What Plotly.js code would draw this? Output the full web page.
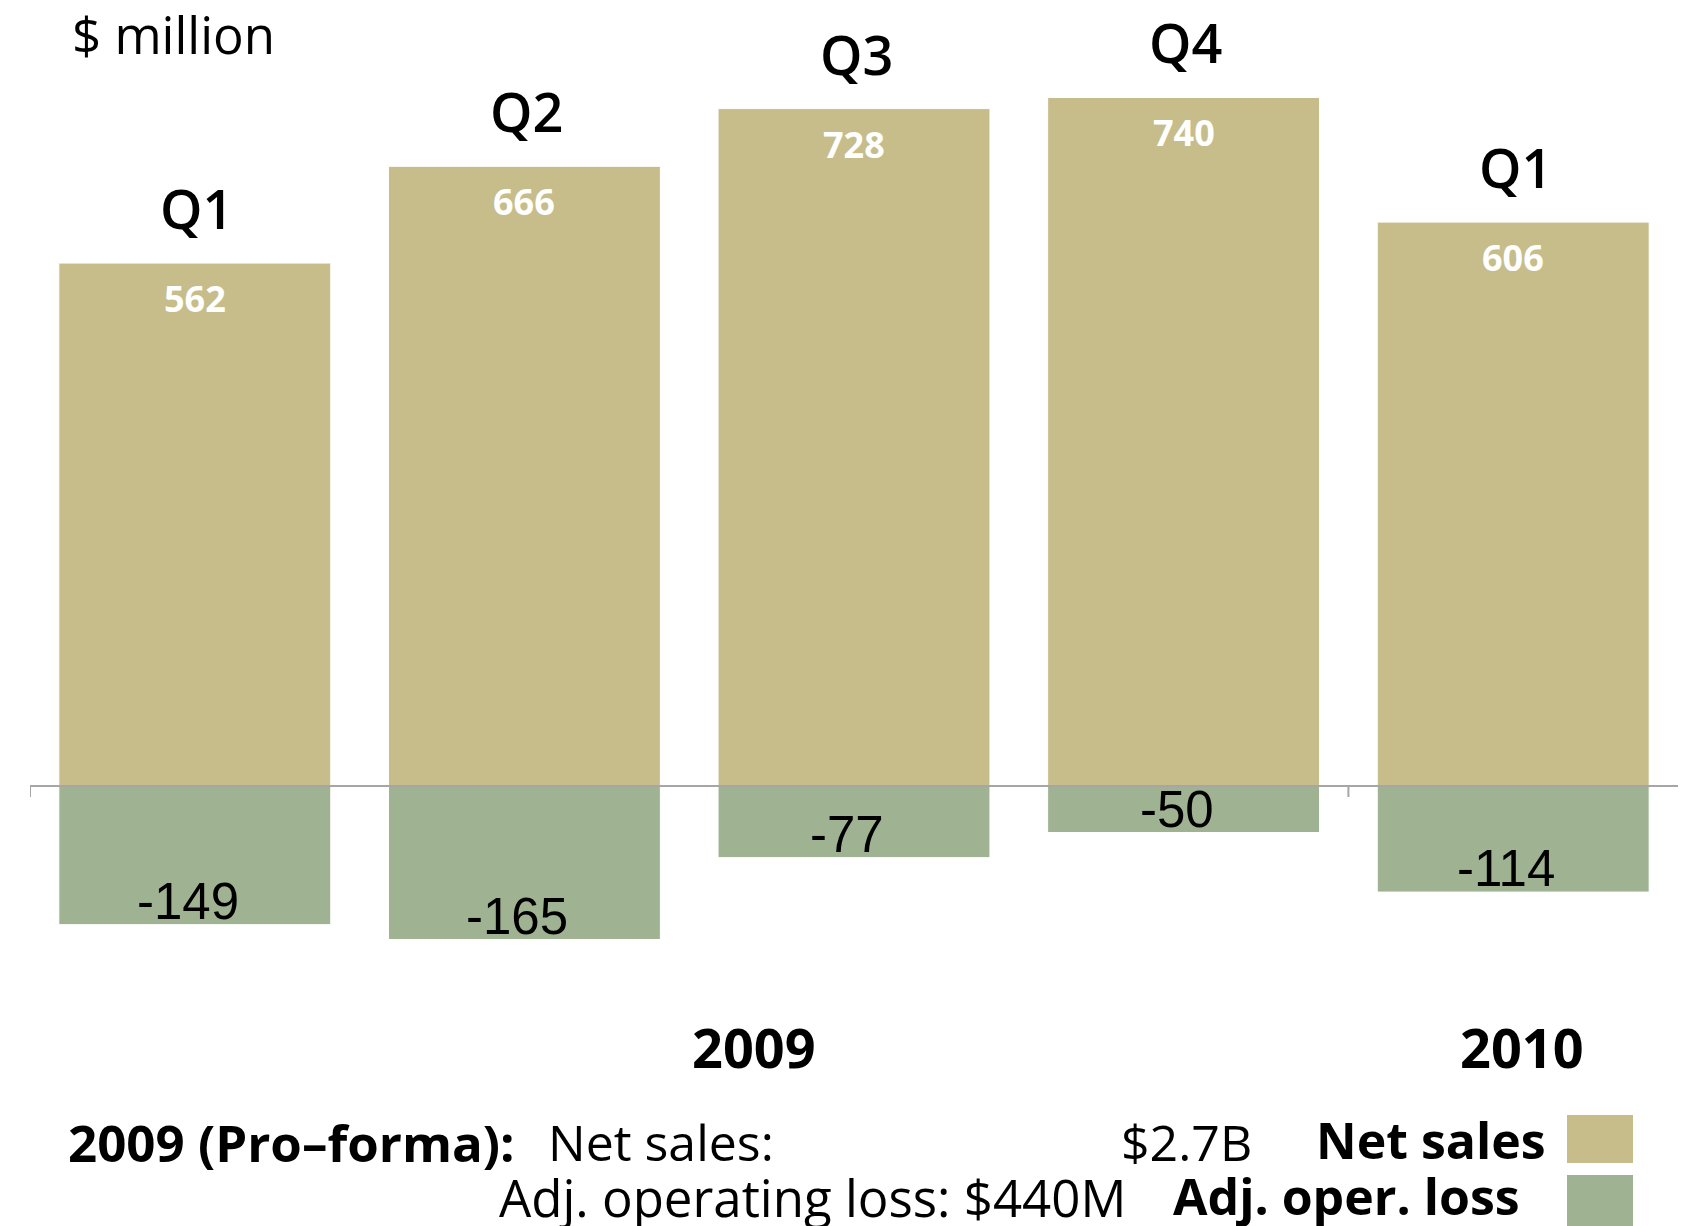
<!DOCTYPE html>
<html>
<head>
<meta charset="utf-8">
<script src="https://cdn.plot.ly/plotly-3.0.1.min.js"></script>
<style>html,body{margin:0;padding:0;background:#fff;}#chart{width:1691px;height:1226px;}</style>
</head>
<body>
<div id="chart"></div>
<script>
// ---- data ----
const categories = ["Q1 2009", "Q2 2009", "Q3 2009", "Q4 2009", "Q1 2010"];
const quarterLabels = ["Q1", "Q2", "Q3", "Q4", "Q1"];
const netSales = [562, 666, 728, 740, 606];
const adjOperLoss = [-149, -165, -77, -50, -114];
const yearLabels = ["2009", "2010"];
const unitLabel = "$ million";
const summaryLabels = ["2009 (Pro\u2013forma):", "Net sales:", "$2.7B", "Adj. operating loss: $440M"];
const legendLabels = ["Net sales", "Adj. oper. loss"];

// ---- style ----
const TAN = "#c7bd8a";
const GREEN = "#9fb292";
const W = 1691, H = 1226;
const ML = 30, MR = 13, MT = 0, MB = 246;
const PW = W - ML - MR, PH = H - MT - MB;
const px = x => (x - ML) / PW;          // pixel x -> paper x
const py = y => 1 - (y - MT) / PH;      // pixel y -> paper y
const SANS = "'Open Sans', sans-serif";

const xIdx = categories.map((c, i) => i);

const traces = [
  {type: "bar", x: xIdx, y: netSales, width: 0.825, name: legendLabels[0],
   marker: {color: TAN, line: {color: "#ffffff", width: 1}}, hoverinfo: "none"},
  {type: "bar", x: xIdx, y: adjOperLoss, width: 0.825, name: legendLabels[1],
   marker: {color: GREEN, line: {color: "#ffffff", width: 1}}, hoverinfo: "none"}
];

const annotations = [];
// quarter labels above bars
xIdx.forEach(i => annotations.push({x: i, y: netSales[i], xref: "x", yref: "y",
  text: quarterLabels[i], showarrow: false, yanchor: "bottom", yshift: 16, xshift: 2,
  font: {family: SANS, size: 54, color: "#000", weight: 600}}));
// net sales values inside bars
xIdx.forEach(i => annotations.push({x: i, y: netSales[i], xref: "x", yref: "y",
  text: String(netSales[i]), showarrow: false, yanchor: "top", yshift: -9,
  font: {family: SANS, size: 36, color: "#ffffff", weight: 700}}));
// loss values
xIdx.forEach(i => annotations.push({x: i, y: adjOperLoss[i], xref: "x", yref: "y",
  text: String(adjOperLoss[i]), showarrow: false, yanchor: "bottom", yshift: -7, xshift: -7,
  font: {family: "'Liberation Sans', Arial, sans-serif", size: 51, color: "#000"}}));
// unit
annotations.push({x: px(70), y: py(34), xref: "paper", yref: "paper", xanchor: "left", yanchor: "middle",
  text: unitLabel, showarrow: false, font: {family: SANS, size: 51, color: "#000"}});
// years
annotations.push({x: px(754), y: py(1047), xref: "paper", yref: "paper", xanchor: "center", yanchor: "middle",
  text: yearLabels[0], showarrow: false, font: {family: SANS, size: 54, color: "#000", weight: 700}});
annotations.push({x: px(1522), y: py(1047), xref: "paper", yref: "paper", xanchor: "center", yanchor: "middle",
  text: yearLabels[1], showarrow: false, font: {family: SANS, size: 54, color: "#000", weight: 700}});
// summary row 1
annotations.push({x: px(66), y: py(1142), xref: "paper", yref: "paper", xanchor: "left", yanchor: "middle",
  text: summaryLabels[0], showarrow: false, font: {family: SANS, size: 51, color: "#000", weight: 700}});
annotations.push({x: px(546), y: py(1142), xref: "paper", yref: "paper", xanchor: "left", yanchor: "middle",
  text: summaryLabels[1], showarrow: false, font: {family: SANS, size: 50, color: "#000"}});
annotations.push({x: px(1254), y: py(1142), xref: "paper", yref: "paper", xanchor: "right", yanchor: "middle",
  text: summaryLabels[2], showarrow: false, font: {family: SANS, size: 50, color: "#000"}});
annotations.push({x: px(1548), y: py(1140), xref: "paper", yref: "paper", xanchor: "right", yanchor: "middle",
  text: legendLabels[0], showarrow: false, font: {family: SANS, size: 50, color: "#000", weight: 700}});
// summary row 2
annotations.push({x: px(497), y: py(1197), xref: "paper", yref: "paper", xanchor: "left", yanchor: "middle",
  text: summaryLabels[3], showarrow: false, font: {family: SANS, size: 51, color: "#000"}});
annotations.push({x: px(1522), y: py(1196), xref: "paper", yref: "paper", xanchor: "right", yanchor: "middle",
  text: legendLabels[1], showarrow: false, font: {family: SANS, size: 50, color: "#000", weight: 700}});

const shapes = [
  // baseline axis at zero
  {type: "line", xref: "x", yref: "y", x0: -0.5, x1: 4.5, y0: 0, y1: 0,
   line: {color: "#a6a6a6", width: 2}, layer: "above"},
  // group ticks
  {type: "line", xref: "x", yref: "y", ysizemode: "pixel", yanchor: 0, x0: -0.5, x1: -0.5, y0: 0, y1: -11,
   line: {color: "#a6a6a6", width: 2}},
  {type: "line", xref: "x", yref: "y", ysizemode: "pixel", yanchor: 0, x0: 3.5, x1: 3.5, y0: 0, y1: -11,
   line: {color: "#a6a6a6", width: 2}},
  // legend swatches
  {type: "rect", xref: "paper", yref: "paper", x0: px(1567), x1: px(1633), y0: py(1115), y1: py(1163),
   fillcolor: TAN, line: {width: 0}},
  {type: "rect", xref: "paper", yref: "paper", x0: px(1567), x1: px(1633), y0: py(1175), y1: py(1228),
   fillcolor: GREEN, line: {width: 0}}
];

const scale = 0.9305;
const layout = {
  width: W, height: H,
  margin: {l: ML, r: MR, t: MT, b: MB, pad: 0},
  paper_bgcolor: "#ffffff", plot_bgcolor: "#ffffff",
  barmode: "relative", bargap: 0,
  showlegend: false,
  xaxis: {range: [-0.5, 4.5], showgrid: false, zeroline: false, showticklabels: false, ticks: "", showline: false, fixedrange: true},
  yaxis: {range: [-(PH - 786) / scale, 786 / scale], showgrid: false, zeroline: false, showticklabels: false, ticks: "", showline: false, fixedrange: true},
  annotations: annotations,
  shapes: shapes
};

Plotly.newPlot("chart", traces, layout, {staticPlot: true, displayModeBar: false});
</script>
</body>
</html>
